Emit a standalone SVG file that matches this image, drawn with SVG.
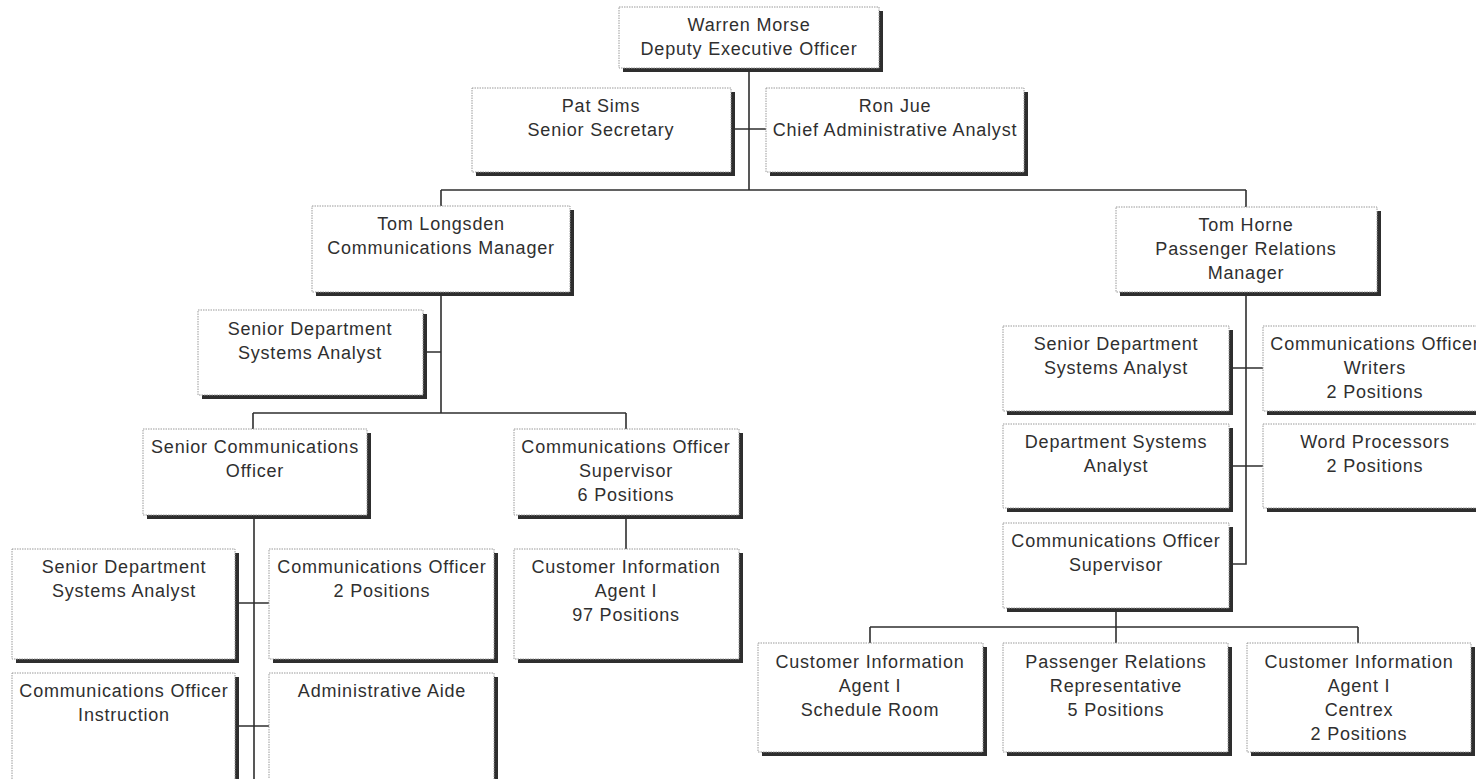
<svg xmlns="http://www.w3.org/2000/svg" width="1476" height="779" viewBox="0 0 1476 779">
<style>
.sh{fill:#2e2e2e}
.bx{fill:#fff;stroke:#9a9a9a;stroke-width:1;stroke-dasharray:1.5 1}
.t{font-family:"Liberation Sans",Arial,sans-serif;font-size:18px;letter-spacing:0.8px;fill:#2f2f2f;text-anchor:middle}
.c{fill:none;stroke:#2f2f2f;stroke-width:1.6}
</style>
<rect width="1476" height="779" fill="#fff"/>
<g id="connectors" class="c">
<path d="M749 68V190M731 129H766M441 190H1246M441 190V206M1246 190V207"/>
<path d="M441 292V413M423 352H441M253 413H626M253 413V429M626 413V429"/>
<path d="M254 515V779M235 603H269M235 726H269M626 515V549"/>
<path d="M1246 292V564H1229M1229 368H1263M1229 466H1263"/>
<path d="M1116 608V643M870 627H1358M870 627V643M1358 627V643"/>
</g>
<g id="n-warren"><rect class="sh" x="623" y="11" width="260" height="61"/><rect class="bx" x="619" y="7" width="260" height="61"/><text class="t" x="749" y="31">Warren Morse</text><text class="t" x="749" y="55">Deputy Executive Officer</text></g>
<g id="n-pat"><rect class="sh" x="476" y="92" width="259" height="84"/><rect class="bx" x="472" y="88" width="259" height="84"/><text class="t" x="601" y="112">Pat Sims</text><text class="t" x="601" y="136">Senior Secretary</text></g>
<g id="n-ron"><rect class="sh" x="770" y="92" width="258" height="84"/><rect class="bx" x="766" y="88" width="258" height="84"/><text class="t" x="895" y="112">Ron Jue</text><text class="t" x="895" y="136">Chief Administrative Analyst</text></g>
<g id="n-longsden"><rect class="sh" x="316" y="210" width="258" height="86"/><rect class="bx" x="312" y="206" width="258" height="86"/><text class="t" x="441" y="230">Tom Longsden</text><text class="t" x="441" y="254">Communications Manager</text></g>
<g id="n-horne"><rect class="sh" x="1120" y="211" width="261" height="85"/><rect class="bx" x="1116" y="207" width="261" height="85"/><text class="t" x="1246" y="231">Tom Horne</text><text class="t" x="1246" y="255">Passenger Relations</text><text class="t" x="1246" y="279">Manager</text></g>
<g id="n-sdsa-l"><rect class="sh" x="202" y="314" width="225" height="85"/><rect class="bx" x="198" y="310" width="225" height="85"/><text class="t" x="310" y="335">Senior Department</text><text class="t" x="310" y="359">Systems Analyst</text></g>
<g id="n-sco"><rect class="sh" x="147" y="433" width="224" height="86"/><rect class="bx" x="143" y="429" width="224" height="86"/><text class="t" x="255" y="453">Senior Communications</text><text class="t" x="255" y="477">Officer</text></g>
<g id="n-cos6"><rect class="sh" x="518" y="433" width="225" height="86"/><rect class="bx" x="514" y="429" width="225" height="86"/><text class="t" x="626" y="453">Communications Officer</text><text class="t" x="626" y="477">Supervisor</text><text class="t" x="626" y="501">6 Positions</text></g>
<g id="n-cia97"><rect class="sh" x="518" y="553" width="225" height="110"/><rect class="bx" x="514" y="549" width="225" height="110"/><text class="t" x="626" y="573">Customer Information</text><text class="t" x="626" y="597">Agent I</text><text class="t" x="626" y="621">97 Positions</text></g>
<g id="n-sdsa-ll"><rect class="sh" x="16" y="553" width="223" height="110"/><rect class="bx" x="12" y="549" width="223" height="110"/><text class="t" x="124" y="573">Senior Department</text><text class="t" x="124" y="597">Systems Analyst</text></g>
<g id="n-co2"><rect class="sh" x="273" y="553" width="225" height="110"/><rect class="bx" x="269" y="549" width="225" height="110"/><text class="t" x="382" y="573">Communications Officer</text><text class="t" x="382" y="597">2 Positions</text></g>
<g id="n-coi"><rect class="sh" x="16" y="677" width="223" height="120"/><rect class="bx" x="12" y="673" width="223" height="120"/><text class="t" x="124" y="697">Communications Officer</text><text class="t" x="124" y="721">Instruction</text></g>
<g id="n-aide"><rect class="sh" x="273" y="677" width="225" height="120"/><rect class="bx" x="269" y="673" width="225" height="120"/><text class="t" x="382" y="697">Administrative Aide</text></g>
<g id="n-sdsa-r"><rect class="sh" x="1007" y="330" width="226" height="85"/><rect class="bx" x="1003" y="326" width="226" height="85"/><text class="t" x="1116" y="350">Senior Department</text><text class="t" x="1116" y="374">Systems Analyst</text></g>
<g id="n-cow"><rect class="sh" x="1267" y="330" width="225" height="85"/><rect class="bx" x="1263" y="326" width="225" height="85"/><text class="t" x="1375" y="350">Communications Officer</text><text class="t" x="1375" y="374">Writers</text><text class="t" x="1375" y="398">2 Positions</text></g>
<g id="n-dsa"><rect class="sh" x="1007" y="428" width="226" height="84"/><rect class="bx" x="1003" y="424" width="226" height="84"/><text class="t" x="1116" y="448">Department Systems</text><text class="t" x="1116" y="472">Analyst</text></g>
<g id="n-wp"><rect class="sh" x="1267" y="428" width="225" height="84"/><rect class="bx" x="1263" y="424" width="225" height="84"/><text class="t" x="1375" y="448">Word Processors</text><text class="t" x="1375" y="472">2 Positions</text></g>
<g id="n-cos-r"><rect class="sh" x="1007" y="527" width="226" height="85"/><rect class="bx" x="1003" y="523" width="226" height="85"/><text class="t" x="1116" y="547">Communications Officer</text><text class="t" x="1116" y="571">Supervisor</text></g>
<g id="n-cia-sr"><rect class="sh" x="762" y="647" width="225" height="109"/><rect class="bx" x="758" y="643" width="225" height="109"/><text class="t" x="870" y="668">Customer Information</text><text class="t" x="870" y="692">Agent I</text><text class="t" x="870" y="716">Schedule Room</text></g>
<g id="n-prr"><rect class="sh" x="1007" y="647" width="225" height="109"/><rect class="bx" x="1003" y="643" width="225" height="109"/><text class="t" x="1116" y="668">Passenger Relations</text><text class="t" x="1116" y="692">Representative</text><text class="t" x="1116" y="716">5 Positions</text></g>
<g id="n-cia-cx"><rect class="sh" x="1251" y="647" width="224" height="109"/><rect class="bx" x="1247" y="643" width="224" height="109"/><text class="t" x="1359" y="668">Customer Information</text><text class="t" x="1359" y="692">Agent I</text><text class="t" x="1359" y="716">Centrex</text><text class="t" x="1359" y="740">2 Positions</text></g>
</svg>
